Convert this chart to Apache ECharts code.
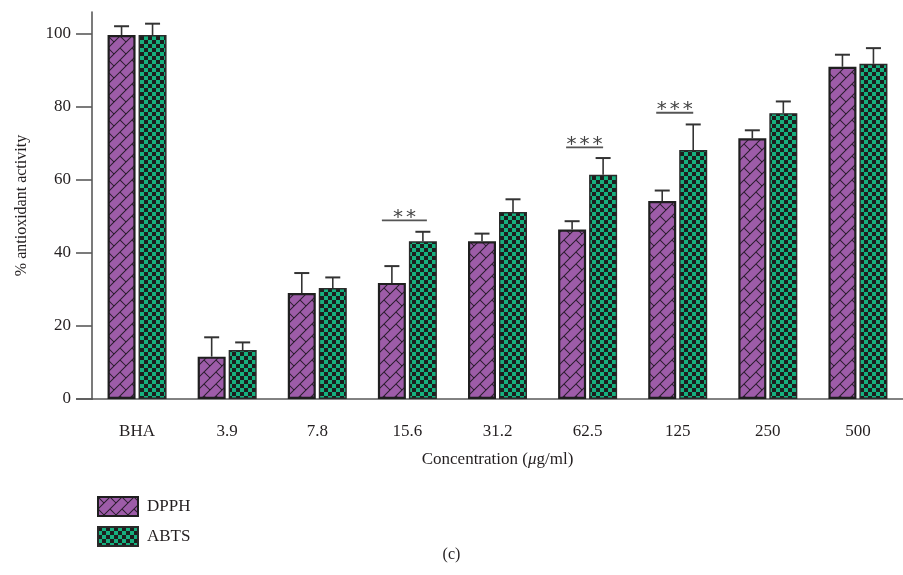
<!DOCTYPE html>
<html>
<head>
<meta charset="utf-8">
<script src="https://cdn.jsdelivr.net/npm/echarts@6/dist/echarts.min.js"></script>
<style>
html,body{margin:0;padding:0;background:#fff;}
#c{width:903px;height:575px;}
</style>
</head>
<body>
<div id="c"></div>
<script>
// ---- data ----
const categories = ['BHA', '3.9', '7.8', '15.6', '31.2', '62.5', '125', '250', '500'];
const dpphMean = [99.7, 11.6, 29.0, 31.8, 43.2, 46.4, 54.2, 71.4, 91.0];
const dpphSD   = [2.4, 5.3, 5.5, 4.6, 2.1, 2.3, 2.9, 2.2, 3.3];
const abtsMean = [99.7, 13.4, 30.4, 43.2, 51.2, 61.4, 68.2, 78.3, 91.8];
const abtsSD   = [3.1, 2.1, 2.9, 2.6, 3.5, 4.6, 7.0, 3.2, 4.3];
const sigCategory = ['15.6', '62.5', '125'];
const sigLevel = [48.9, 68.9, 78.4];
const sigStars = ['**', '***', '***'];
const yTicks = [0, 20, 40, 60, 80, 100];

// ---- patterns ----
function brickPattern() {
  const s = 12, h = s / Math.SQRT2;
  const cv = document.createElement('canvas');
  cv.width = s; cv.height = s;
  const ctx = cv.getContext('2d');
  ctx.fillStyle = '#9d5ca8';
  ctx.fillRect(0, 0, s, s);
  ctx.strokeStyle = '#2b1d2e';
  ctx.lineWidth = 1.05;
  const P = (u, v) => [(u + v) / Math.SQRT2, (-u + v) / Math.SQRT2];
  ctx.beginPath();
  for (let k = -6; k <= 6; k++) {
    const a = P(-60, k * h), b = P(60, k * h);
    ctx.moveTo(a[0], a[1]); ctx.lineTo(b[0], b[1]);
    for (let m = -6; m <= 6; m++) {
      const u = 2 * h * m + ((k % 2 + 2) % 2) * h;
      const c = P(u, k * h), d = P(u, (k + 1) * h);
      ctx.moveTo(c[0], c[1]); ctx.lineTo(d[0], d[1]);
    }
  }
  ctx.stroke();
  return cv;
}
function checkPattern() {
  const q = 4;
  const cv = document.createElement('canvas');
  cv.width = 2 * q; cv.height = 2 * q;
  const ctx = cv.getContext('2d');
  ctx.fillStyle = '#16b07e';
  ctx.fillRect(0, 0, 2 * q, 2 * q);
  ctx.fillStyle = '#1e1e1e';
  ctx.fillRect(0, 0, q, q);
  ctx.fillRect(q, q, q, q);
  return cv;
}

const BAR_W = 28, BAR_GAP = 3;
const OFF = (BAR_W + BAR_GAP) / 2;
const SERIF = '"Liberation Serif","DejaVu Serif",serif';
const TXT = '#231f20';
const AX = '#5a5a5a';

function errItem(offset) {
  return function (params, api) {
    const x = api.coord([api.value(0), api.value(2)]);
    const base = api.coord([api.value(0), api.value(1)]);
    const cx = x[0] + offset;
    return {
      type: 'group',
      children: [
        { type: 'line', shape: { x1: cx, y1: base[1], x2: cx, y2: x[1] },
          style: { stroke: '#333', lineWidth: 1.6 } },
        { type: 'line', shape: { x1: cx - 7.5, y1: x[1], x2: cx + 7.5, y2: x[1] },
          style: { stroke: '#333', lineWidth: 2 } }
      ]
    };
  };
}

const sigData = sigCategory.map((c, i) => [categories.indexOf(c), sigLevel[i], sigStars[i]]);

const chart = echarts.init(document.getElementById('c'), null, { renderer: 'canvas' });
const option = {
  animation: false,
  backgroundColor: '#fff',
  textStyle: { fontFamily: SERIF },
  grid: { left: 92, top: 12, width: 819, height: 387, containLabel: false },
  legend: {
    orient: 'vertical', left: 92, top: 491,
    icon: 'rect',
    itemWidth: 40, itemHeight: 19, itemGap: 9,
    textStyle: { fontFamily: SERIF, fontSize: 17, color: TXT, padding: [0, 0, 0, 4] },
    data: ['DPPH', 'ABTS']
  },
  xAxis: {
    type: 'category',
    data: categories,
    name: 'Concentration ({i|μ}g/ml)',
    nameLocation: 'middle',
    nameGap: 52,
    nameTextStyle: { fontFamily: SERIF, fontSize: 17, color: TXT,
      rich: { i: { fontFamily: SERIF, fontSize: 17, color: TXT, fontStyle: 'italic' } } },
    axisLine: { lineStyle: { color: AX, width: 1.6 } },
    axisTick: { alignWithLabel: true, length: 14, lineStyle: { color: AX, width: 1.6 } },
    axisLabel: { fontFamily: SERIF, fontSize: 17, color: TXT, margin: 24 },
    splitLine: { show: false }
  },
  yAxis: {
    type: 'value',
    min: 0, max: 106,
    name: '% antioxidant activity',
    nameLocation: 'middle',
    nameGap: 62,
    nameTextStyle: { fontFamily: SERIF, fontSize: 16, color: TXT },
    axisLine: { show: true, lineStyle: { color: AX, width: 1.6 } },
    axisTick: { show: true, length: 16, customValues: yTicks, lineStyle: { color: AX, width: 1.6 } },
    axisLabel: { fontFamily: SERIF, fontSize: 17, color: TXT, margin: 21, customValues: yTicks },
    splitLine: { show: false }
  },
  series: [
    {
      name: 'DPPH', type: 'bar', data: dpphMean,
      barWidth: BAR_W, barGap: (BAR_GAP / BAR_W * 100) + '%',
      itemStyle: { color: { image: brickPattern(), repeat: 'repeat' }, borderColor: '#1f1f1f', borderWidth: 2.2 },
      z: 2
    },
    {
      name: 'ABTS', type: 'bar', data: abtsMean,
      barWidth: BAR_W,
      itemStyle: { color: { image: checkPattern(), repeat: 'repeat' }, borderColor: '#2a2a2a', borderWidth: 1.4 },
      z: 2
    },
    {
      type: 'custom', name: 'dpphErr', clip: false, z: 3,
      data: dpphMean.map((m, i) => [i, m, m + dpphSD[i]]),
      renderItem: errItem(-OFF)
    },
    {
      type: 'custom', name: 'abtsErr', clip: false, z: 3,
      data: abtsMean.map((m, i) => [i, m, m + abtsSD[i]]),
      renderItem: errItem(OFF)
    },
    {
      type: 'custom', name: 'sig', clip: false, z: 4,
      data: sigData,
      renderItem: function (params, api) {
        const p = api.coord([api.value(0), api.value(1)]);
        const stars = sigData[params.dataIndex][2];
        const half = stars.length === 2 ? 22.5 : 18.5;
        const cx = p[0] - 3;
        const children = [
          { type: 'line', shape: { x1: cx - half, y1: p[1], x2: cx + half, y2: p[1] },
            style: { stroke: '#555', lineWidth: 1.8 } }
        ];
        const n = stars.length, sp = 13;
        for (let i = 0; i < n; i++) {
          children.push({
            type: 'text',
            x: cx + (i - (n - 1) / 2) * sp, y: p[1] - 3,
            style: { text: '*', fontFamily: '"DejaVu Sans",sans-serif', fontSize: 20,
              fill: '#444', align: 'center', verticalAlign: 'middle' }
          });
        }
        return { type: 'group', children: children };
      }
    }
  ],
  graphic: [
    { type: 'line', shape: { x1: 76, y1: 399, x2: 93, y2: 399 },
      style: { stroke: AX, lineWidth: 1.6 } },
    { type: 'text', left: 'center', top: 547,
      style: { text: '(c)', fontFamily: SERIF, fontSize: 16, fill: TXT } }
  ]
};
chart.setOption(option);
</script>
</body>
</html>
